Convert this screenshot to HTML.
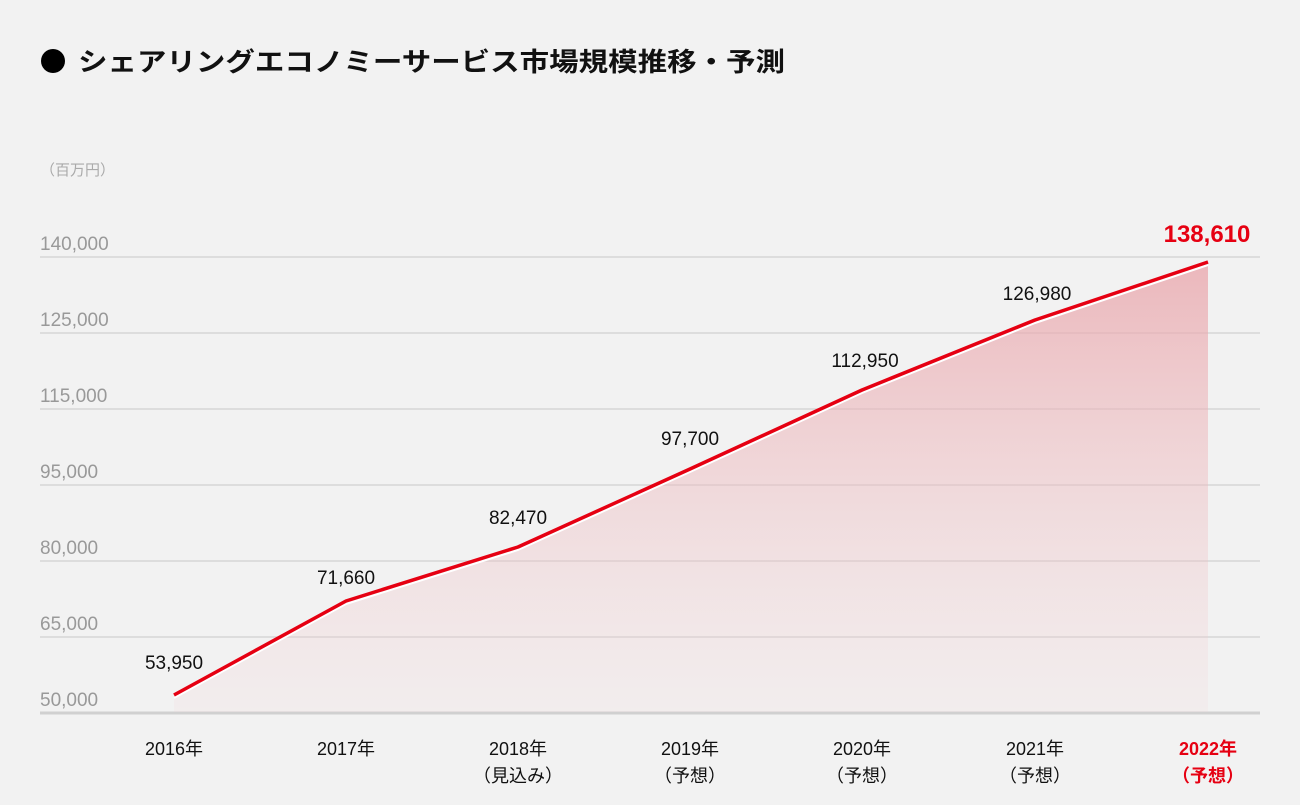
<!DOCTYPE html>
<html><head><meta charset="utf-8"><style>
html,body{margin:0;padding:0;background:#f2f2f2;}
body{width:1300px;height:800px;overflow:hidden;font-family:"Liberation Sans","Noto Sans CJK JP",sans-serif;}
</style></head><body>
<svg width="1300" height="800" viewBox="0 0 1300 800" xmlns="http://www.w3.org/2000/svg" style="font-family:'Liberation Sans','Noto Sans CJK JP',sans-serif">
<defs>
<linearGradient id="g" gradientUnits="userSpaceOnUse" x1="0" y1="260" x2="0" y2="712">
<stop offset="0" stop-color="#e9a3a9" stop-opacity="0.75"/>
<stop offset="1" stop-color="#f2d0d3" stop-opacity="0.15"/>
</linearGradient>
</defs>
<circle cx="53" cy="61" r="12" fill="#000"/>
<text x="78" y="71" font-size="26" font-weight="bold" fill="#111" textLength="707" lengthAdjust="spacingAndGlyphs">シェアリングエコノミーサービス市場規模推移・予測</text>
<text x="40" y="175" font-size="15" fill="#aaa">（百万円）</text>
<g stroke="#d6d6d6" stroke-width="1.5">
<line x1="40" y1="257" x2="1260" y2="257"/>
<line x1="40" y1="333" x2="1260" y2="333"/>
<line x1="40" y1="409" x2="1260" y2="409"/>
<line x1="40" y1="485" x2="1260" y2="485"/>
<line x1="40" y1="561" x2="1260" y2="561"/>
<line x1="40" y1="637" x2="1260" y2="637"/>
</g>
<line x1="40" y1="713" x2="1260" y2="713" stroke="#d0d0d0" stroke-width="3"/>
<g font-size="19" fill="#999">
<text x="40" y="250">140,000</text>
<text x="40" y="326">125,000</text>
<text x="40" y="402">115,000</text>
<text x="40" y="478">95,000</text>
<text x="40" y="554">80,000</text>
<text x="40" y="630">65,000</text>
<text x="40" y="706">50,000</text>
</g>
<polygon points="174,695 346,601 518,547 690,469 862,390 1035,320 1208,262 1208,712 174,712" fill="url(#g)"/>
<polyline points="174,698 346,604 518,550 690,472 862,393 1035,323 1208,265" fill="none" stroke="#fff" stroke-width="2"/>
<polyline points="174,695 346,601 518,547 690,469 862,390 1035,320 1208,262" fill="none" stroke="#e60012" stroke-width="3.5" stroke-linejoin="round"/>
<g font-size="19" fill="#111" text-anchor="middle">
<text x="174" y="669">53,950</text>
<text x="346" y="584">71,660</text>
<text x="518" y="524">82,470</text>
<text x="690" y="445">97,700</text>
<text x="865" y="367">112,950</text>
<text x="1037" y="300">126,980</text>
</g>
<text x="1207" y="242" font-size="24" font-weight="bold" fill="#e60012" text-anchor="middle">138,610</text>
<g font-size="18" fill="#111" text-anchor="middle">
<text x="174" y="755">2016年</text>
<text x="346" y="755">2017年</text>
<text x="518" y="755">2018年</text>
<text x="518" y="782">（見込み）</text>
<text x="690" y="755">2019年</text>
<text x="690" y="782">（予想）</text>
<text x="862" y="755">2020年</text>
<text x="862" y="782">（予想）</text>
<text x="1035" y="755">2021年</text>
<text x="1035" y="782">（予想）</text>
</g>
<g font-size="18" font-weight="bold" fill="#e60012" text-anchor="middle">
<text x="1208" y="755">2022年</text>
<text x="1208" y="782">（予想）</text>
</g>
</svg>
</body></html>
